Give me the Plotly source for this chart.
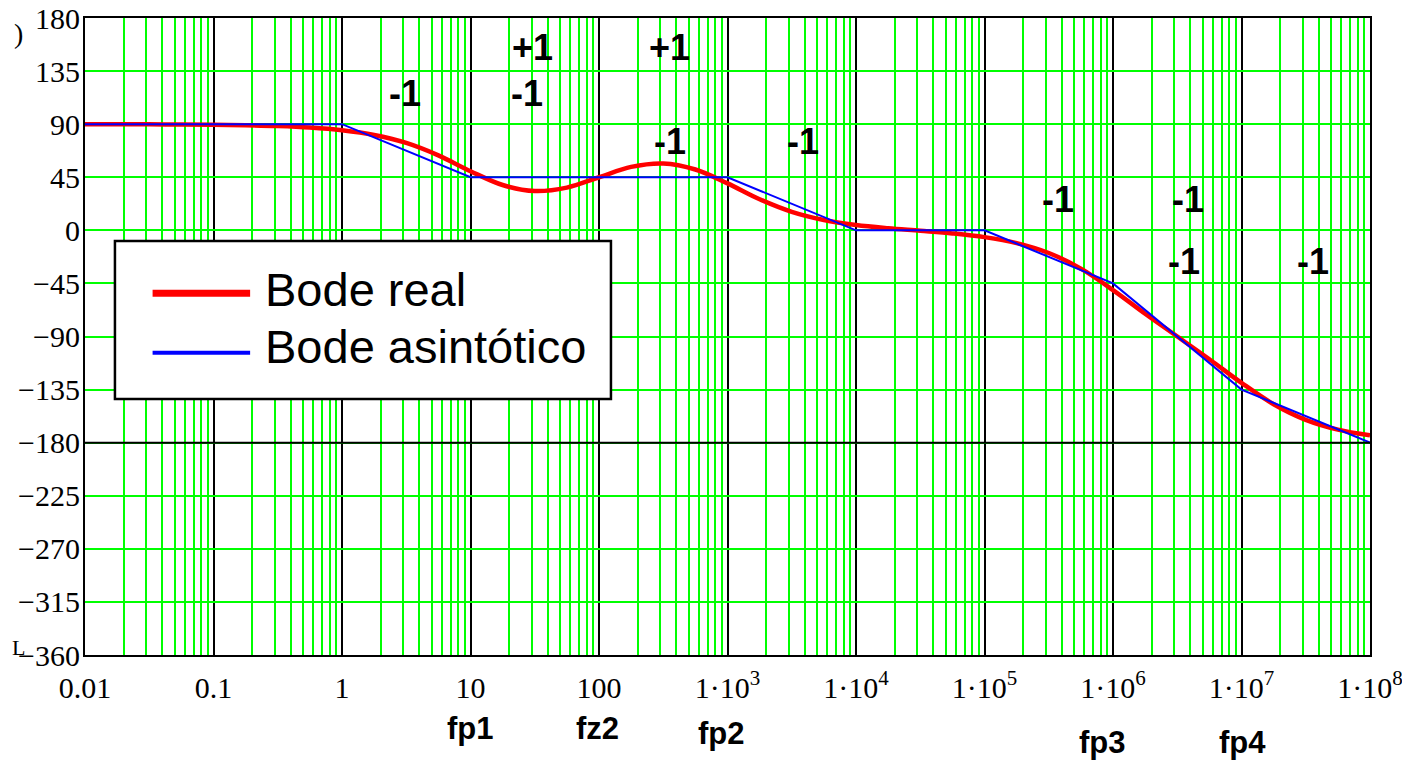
import numpy as np
import plotly.graph_objects as go

# Phase of the real transfer function (degrees), sampled every quarter decade
freq_real = [
    0.01, 0.01778, 0.03162, 0.05623, 0.1, 0.1778, 0.3162, 0.5623,
    1, 1.778, 3.162, 5.623, 10, 17.78, 31.62, 56.23,
    100, 177.8, 316.2, 562.3, 1e3, 1778, 3162, 5623,
    1e4, 1.778e4, 3.162e4, 5.623e4, 1e5, 1.778e5, 3.162e5, 5.623e5,
    1e6, 1.778e6, 3.162e6, 5.623e6, 1e7, 1.778e7, 3.162e7, 5.623e7, 1e8,
]
phase_real = [
    89.95, 89.91, 89.84, 89.71, 89.48, 89.07, 88.35, 87.07,
    84.80, 80.84, 74.08, 63.54, 50.14, 38.42, 33.29, 36.22,
    45.00, 53.78, 56.69, 51.55, 39.80, 26.35, 15.72, 8.81,
    4.57, 1.81, -0.34, -2.61, -5.76, -10.81, -19.20, -32.49,
    -50.66, -70.69, -89.98, -109.27, -129.29, -147.42, -160.64, -168.90, -173.72,
]

# Straight-line (asymptotic) phase approximation
freq_asym = [0.01, 1, 10, 1e3, 1e4, 1e5, 1e6, 1e7, 1e8]
phase_asym = [90, 90, 45, 45, 0, 0, -45, -135, -180]

# Axis ticks
x_tick_vals = [0.01, 0.1, 1, 10, 100, 1e3, 1e4, 1e5, 1e6, 1e7, 1e8]
x_tick_text = ["0.01", "0.1", "1", "10", "100",
               "1·10<sup>3</sup>", "1·10<sup>4</sup>", "1·10<sup>5</sup>",
               "1·10<sup>6</sup>", "1·10<sup>7</sup>", "1·10<sup>8</sup>"]
y_tick_vals = [180, 135, 90, 45, 0, -45, -90, -135, -180, -225, -270, -315, -360]
y_tick_text = ["180", "135", "90", "45", "0", "−45", "−90", "−135", "−180",
               "−225", "−270", "−315", "−360"]

# Slope annotations: text, log10(frequency), phase
slope_text = ["-1", "+1", "-1", "+1", "-1", "-1", "-1", "-1", "-1", "-1"]
slope_logf = [0.49, 1.48, 1.44, 2.55, 2.55, 3.59, 5.57, 6.58, 6.55, 7.56]
slope_phase = [116, 155, 116, 155, 75, 75, 26.5, 26.5, -26, -26]

# Corner-frequency names under the axis: text, log10(frequency), paper y
corner_text = ["fp1", "fz2", "fp2", "fp3", "fp4"]
corner_logf = [1.0, 1.99, 2.95, 5.92, 7.01]
corner_y = [-0.1146, -0.1146, -0.1225, -0.1366, -0.1366]

minor_vals = [m * 10.0 ** e for e in range(-2, 8) for m in range(2, 10)]

fig = go.Figure()
fig.add_trace(go.Scatter(x=freq_real, y=phase_real, mode="lines",
                         line=dict(color="#ff0000", width=4.5, shape="spline"),
                         name="Bode real"))
fig.add_trace(go.Scatter(x=freq_asym, y=phase_asym, mode="lines",
                         line=dict(color="#0000ff", width=2),
                         name="Bode asintótico"))

# Emphasised -180° reference line
fig.add_shape(type="line", xref="paper", x0=0, x1=1, yref="y", y0=-180, y1=-180,
              line=dict(color="#000000", width=2), layer="above")

# Legend box drawn by hand
fig.add_shape(type="rect", xref="paper", yref="paper",
              x0=0.0233, x1=0.4093, y0=0.4019, y1=0.6499,
              fillcolor="white", line=dict(color="black", width=2.5), layer="above")
fig.add_shape(type="line", xref="paper", yref="paper",
              x0=0.0526, x1=0.1285, y0=0.5678, y1=0.5678,
              line=dict(color="#ff0000", width=7), layer="above")
fig.add_shape(type="line", xref="paper", yref="paper",
              x0=0.0526, x1=0.1285, y0=0.4745, y1=0.4745,
              line=dict(color="#0000ff", width=4), layer="above")

legend_font = dict(family="Liberation Sans, Arial, sans-serif", size=47, color="black")
fig.add_annotation(text="Bode real", xref="paper", yref="paper",
                   x=0.1385, y=0.574, xanchor="left", yanchor="middle",
                   showarrow=False, font=legend_font)
fig.add_annotation(text="Bode asintótico", xref="paper", yref="paper",
                   x=0.1385, y=0.484, xanchor="left", yanchor="middle",
                   showarrow=False, font=legend_font)

bold_font = dict(family="Liberation Sans, Arial, sans-serif", size=36, color="black")
for t, lx, ph in zip(slope_text, slope_logf, slope_phase):
    fig.add_annotation(text="<b>%s</b>" % t, x=lx, y=ph, xref="x", yref="y",
                       showarrow=False, font=bold_font,
                       xanchor="center", yanchor="middle")

corner_font = dict(family="Liberation Sans, Arial, sans-serif", size=31, color="black")
for t, lx, py in zip(corner_text, corner_logf, corner_y):
    fig.add_annotation(text="<b>%s</b>" % t, x=lx, y=py, xref="x", yref="paper",
                       showarrow=False, font=corner_font,
                       xanchor="center", yanchor="middle")

serif = "Liberation Serif"
fig.add_annotation(text=")", xref="paper", yref="paper", x=-0.0514, y=0.975,
                   xanchor="center", yanchor="middle",
                   showarrow=False, font=dict(family=serif, size=28, color="black"))
fig.add_annotation(text="L", xref="paper", yref="paper", x=-0.0520, y=0.011,
                   xanchor="center", yanchor="middle",
                   showarrow=False, font=dict(family=serif, size=22, color="black"))

fig.update_xaxes(
    type="log", range=[-2, 8], automargin=False,
    tickmode="array", tickvals=x_tick_vals, ticktext=x_tick_text,
    tickfont=dict(family=serif, size=30, color="black"),
    ticks="", ticklen=0, ticklabelstandoff=5, ticklabeloverflow="allow",
    showgrid=True, gridcolor="#000000", gridwidth=2,
    minor=dict(tickmode="array", tickvals=minor_vals, showgrid=True,
               gridcolor="#00ff00", gridwidth=2, ticks=""),
    showline=True, linecolor="black", linewidth=2, mirror=True,
    zeroline=False,
)
fig.update_yaxes(
    range=[-360, 180], automargin=False,
    tickmode="array", tickvals=y_tick_vals, ticktext=y_tick_text,
    tickfont=dict(family=serif, size=30, color="black"),
    ticks="", ticklen=0, ticklabelstandoff=-3, ticklabeloverflow="allow",
    showgrid=True, gridcolor="#00ff00", gridwidth=2,
    showline=True, linecolor="black", linewidth=2, mirror=True,
    zeroline=False,
)

fig.update_layout(
    width=1402, height=765,
    margin=dict(l=85, r=32, t=18, b=110),
    plot_bgcolor="white", paper_bgcolor="white",
    showlegend=False,
)

fig.write_html("out.html")
